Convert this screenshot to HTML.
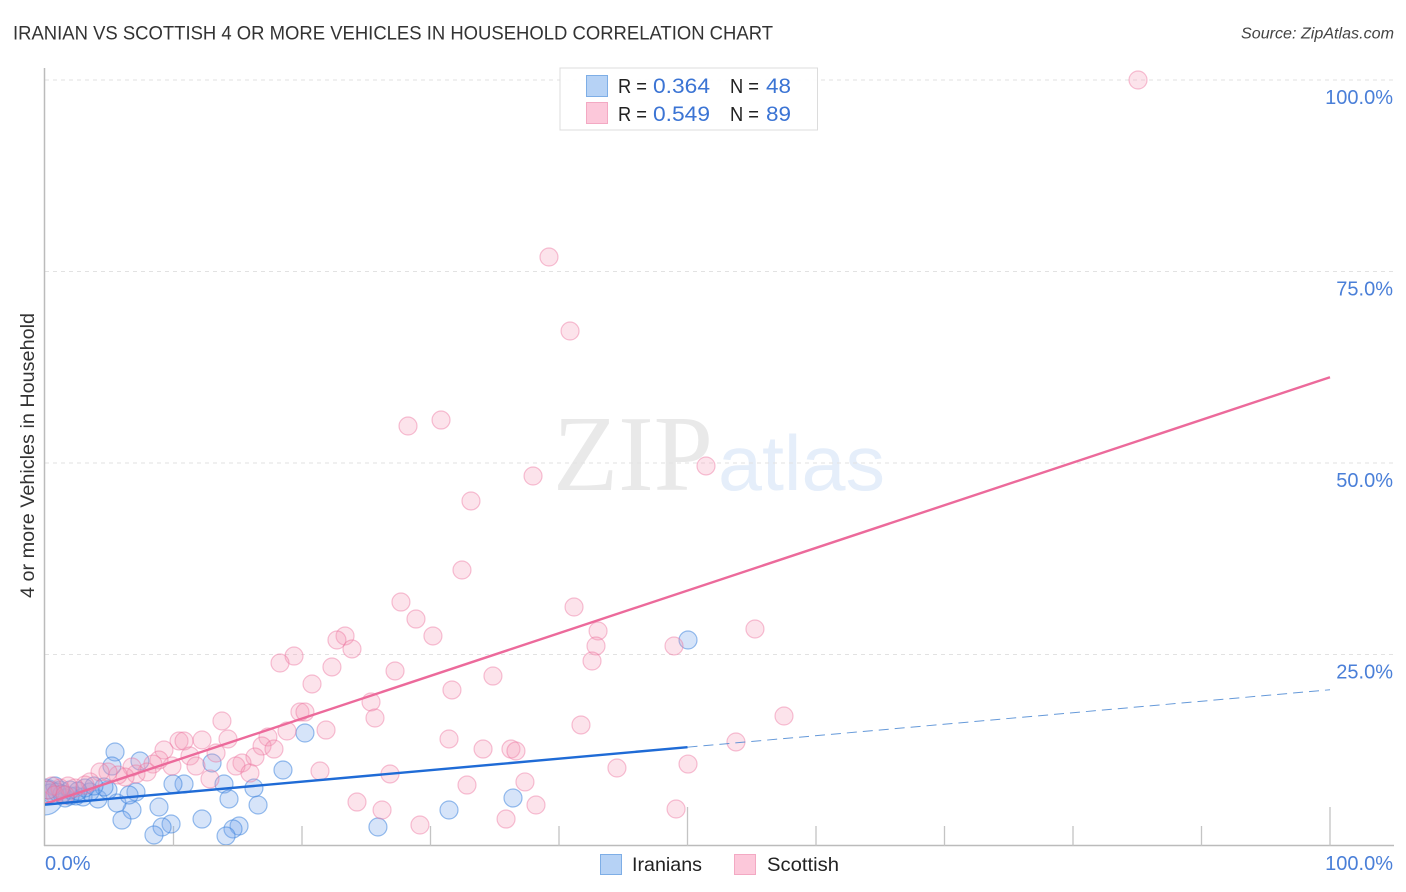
<!DOCTYPE html>
<html lang="en">
<head>
<meta charset="utf-8">
<title>Iranian vs Scottish 4 or more vehicles in household correlation chart</title>
<style>
html,body{margin:0;padding:0;background:#fff;}
svg{display:block;font-family:"Liberation Sans",sans-serif;}
</style>
</head>
<body>
<svg id="chart" width="1406" height="892" viewBox="0 0 1406 892" xmlns="http://www.w3.org/2000/svg">
  <defs>
    <clipPath id="plot-clip"><rect x="45" y="60" width="1349" height="785"/></clipPath>
  </defs>
  <rect width="1406" height="892" fill="#fff"/>
  <text x="13" y="39.500" font-size="19.500" fill="#333" textLength="760" lengthAdjust="spacingAndGlyphs">IRANIAN VS SCOTTISH 4 OR MORE VEHICLES IN HOUSEHOLD CORRELATION CHART</text>
  <text x="1394" y="38.500" font-size="15.500" font-style="italic" fill="#444" text-anchor="end" textLength="153" lengthAdjust="spacingAndGlyphs">Source: ZipAtlas.com</text>

  <g>
    <text x="553" y="490" font-family="'Liberation Serif',serif" font-size="108" fill="#e9e9e9" textLength="160" lengthAdjust="spacingAndGlyphs">ZIP</text>
    <text x="718" y="490" font-size="78" fill="#e5eefa" textLength="167" lengthAdjust="spacingAndGlyphs">atlas</text>
  </g>

  <g id="grid"></g>
  <g id="axes"></g>
  <g id="points" clip-path="url(#plot-clip)"></g>
  <g id="trends" clip-path="url(#plot-clip)"></g>
  <g id="tick-labels"></g>

  <text transform="translate(34 598) rotate(-90)" font-size="19" fill="#333" textLength="285" lengthAdjust="spacingAndGlyphs">4 or more Vehicles in Household</text>

  <g>
    <rect x="560" y="68" width="257.500" height="62" fill="#fff" fill-opacity="0.92" stroke="#dcdcdc" stroke-width="1"/>
    <rect x="586.500" y="75.500" width="21" height="21" fill="#b6d2f5" stroke="#7eaee6"/>
    <rect x="586.500" y="102.500" width="21" height="21" fill="#fcc8da" stroke="#f3a9c3"/>
    <g font-size="20" fill="#222">
      <text x="618" y="93" textLength="29" lengthAdjust="spacingAndGlyphs">R =</text>
      <text x="730" y="93" textLength="29" lengthAdjust="spacingAndGlyphs">N =</text>
      <text x="618" y="121" textLength="29" lengthAdjust="spacingAndGlyphs">R =</text>
      <text x="730" y="121" textLength="29" lengthAdjust="spacingAndGlyphs">N =</text>
    </g>
    <g font-size="21.500" fill="#3b74d4">
      <text x="653" y="93" textLength="57" lengthAdjust="spacingAndGlyphs">0.364</text>
      <text x="766" y="93" textLength="25" lengthAdjust="spacingAndGlyphs">48</text>
      <text x="653" y="121" textLength="57" lengthAdjust="spacingAndGlyphs">0.549</text>
      <text x="766" y="121" textLength="25" lengthAdjust="spacingAndGlyphs">89</text>
    </g>
  </g>

  <g>
    <g>
      <rect x="600.500" y="854.500" width="21" height="20" fill="#b6d2f5" stroke="#7eaee6"/>
      <text x="632" y="871" font-size="19.500" fill="#222" textLength="70" lengthAdjust="spacingAndGlyphs">Iranians</text>
    </g>
    <g>
      <rect x="734.500" y="854.500" width="21" height="20" fill="#fcc8da" stroke="#f3a9c3"/>
      <text x="767" y="871" font-size="19.500" fill="#222" textLength="72" lengthAdjust="spacingAndGlyphs">Scottish</text>
    </g>
  </g>
</svg>
<script>
const xTickValues = [10, 20, 30, 40, 50, 60, 70, 80, 90, 100];
const majorXTicks = [50, 100];
const yGridValues = [25, 50, 75, 100];
const yTickLabels = ["25.0%", "50.0%", "75.0%", "100.0%"];
const xEndLabels = ["0.0%", "100.0%"];
const xEndValues = [0, 100];

const iranianX = [50.04,20.23,5.45,7.39,5.21,13.00,18.52,16.26,10.82,9.96,13.93,36.42,31.44,25.91,16.58,14.32,8.87,6.77,5.60,7.08,6.54,5.99,12.22,9.81,9.11,8.48,15.10,14.63,14.09,4.12,4.90,4.59,2.96,3.50,2.41,1.95,1.56,1.17,0.78,0.39,0.93,1.95,3.11,3.81,1.32,2.57,0.23];
const iranianY = [26.89,14.75,12.27,11.10,10.44,10.84,9.92,7.57,8.09,8.09,8.09,6.27,4.70,2.48,5.35,6.14,5.09,4.70,5.61,7.05,6.66,3.39,3.52,2.87,2.48,1.44,2.61,2.22,1.31,6.14,7.31,7.70,6.40,7.05,6.53,6.53,6.27,7.31,7.83,6.92,7.05,7.31,7.57,7.83,6.79,7.18,7.31];
const iranianLargeX = [0];
const iranianLargeY = [6.40];

const scottishX = [85.06,39.22,40.86,28.25,30.82,51.44,37.98,33.15,32.45,27.70,28.87,41.17,43.04,42.88,42.57,30.19,23.35,22.72,23.89,19.38,18.29,22.33,27.24,20.78,31.67,34.86,25.37,25.68,55.25,48.95,57.51,41.71,53.77,31.44,34.09,36.26,36.65,44.51,50.04,26.85,21.40,32.84,37.35,38.21,49.11,35.88,29.18,26.23,24.28,19.84,20.23,13.77,18.83,21.87,17.35,16.89,17.82,12.22,14.24,10.43,10.82,9.26,13.31,11.28,16.34,15.33,14.86,15.95,12.84,11.75,9.88,8.87,8.40,7.94,7.08,6.77,6.23,5.68,4.90,4.28,3.50,3.11,2.33,1.79,1.17,0.54,0.23,0.78,1.56];
const scottishY = [100.00,76.89,67.23,54.83,55.61,49.61,48.30,45.04,36.03,31.85,29.63,31.20,28.07,26.11,24.15,27.42,27.42,26.89,25.72,24.80,23.89,23.37,22.85,21.15,20.37,22.19,18.80,16.71,28.33,26.11,16.97,15.80,13.58,13.97,12.66,12.66,12.40,10.18,10.70,9.40,9.79,7.96,8.36,5.35,4.83,3.52,2.74,4.70,5.74,17.49,17.49,16.32,15.01,15.14,14.23,13.05,12.66,13.84,13.97,13.71,13.71,12.53,12.14,11.75,11.62,10.84,10.44,9.53,8.75,10.44,10.44,11.23,10.70,9.66,9.40,10.31,9.01,9.27,9.66,9.66,8.36,7.96,7.57,7.83,7.57,7.83,7.31,6.66,6.66];

const scottishTrendX = [0, 100];
const scottishTrendY = [5.5, 61.2];
const iranianTrendX = [0, 50];
const iranianTrendY = [5.4, 12.9];
const iranianExtensionX = [50, 100];
const iranianExtensionY = [12.9, 20.4];

const NS = 'http://www.w3.org/2000/svg';
const sx = v => 45 + v * 12.85;
const sy = v => 846 - v * 7.66;

function make(tag, attrs, parent, text) {
  const el = document.createElementNS(NS, tag);
  for (const k in attrs) el.setAttribute(k, attrs[k]);
  if (text !== undefined) el.textContent = text;
  parent.appendChild(el);
  return el;
}

const gridG = document.getElementById('grid');
const axesG = document.getElementById('axes');
const labelsG = document.getElementById('tick-labels');
const pointsG = document.getElementById('points');
const trendsG = document.getElementById('trends');

yGridValues.forEach((v, i) => {
  const line = make('line', {x1: 45, x2: 1394, y1: sy(v), y2: sy(v), stroke: '#e2e2e2', 'stroke-width': 1, 'stroke-dasharray': '4 4'}, gridG);
  
  
  const label = make('text', {x: 1393, y: sy(v) + 24, 'font-size': 20, fill: '#4a7fd8', 'text-anchor': 'end'}, labelsG, yTickLabels[i]);
  
  
});

const yAxis = make('line', {x1: 44.5, x2: 44.5, y1: 68, y2: 846, stroke: '#bbbbbb', 'stroke-width': 1.5}, axesG);


const xAxis = make('line', {x1: 44, x2: 1394, y1: 845.5, y2: 845.5, stroke: '#bbbbbb', 'stroke-width': 1.5}, axesG);



xTickValues.forEach(v => {
  const top = majorXTicks.includes(v) ? 807 : 826;
  const tick = make('line', {x1: sx(v), x2: sx(v), y1: top, y2: 846, stroke: '#c4c4c4', 'stroke-width': 1.3}, axesG);
  
  
});

xEndLabels.forEach((t, i) => {
  const isLast = xEndValues[i] === 100;
  const label = make('text', {x: isLast ? 1393 : 45, y: 870, 'font-size': 20, fill: '#4a7fd8', 'text-anchor': isLast ? 'end' : 'start'}, labelsG, t);
  
  
});

const blueStyle = {fill: 'rgb(118,167,235)', 'fill-opacity': 0.3, stroke: 'rgb(60,130,220)', 'stroke-opacity': 0.52, 'stroke-width': 1.2};
const pinkStyle = {fill: 'rgb(244,150,180)', 'fill-opacity': 0.27, stroke: 'rgb(235,110,155)', 'stroke-opacity': 0.42, 'stroke-width': 1.2};

function drawPoint(x, y, r, style) {
  return make('circle', Object.assign({cx: sx(x), cy: sy(y), r: r}, style), pointsG);
}

iranianLargeX.forEach((x, i) => {
  const c = drawPoint(x, iranianLargeY[i], 18, blueStyle);
  
  
});
iranianX.forEach((x, i) => {
  const c = drawPoint(x, iranianY[i], 9, blueStyle);
  
  
});
scottishX.forEach((x, i) => {
  const c = drawPoint(x, scottishY[i], 9, pinkStyle);
  
  
});

const pinkLine = make('line', {x1: sx(scottishTrendX[0]), y1: sy(scottishTrendY[0]), x2: sx(scottishTrendX[1]), y2: sy(scottishTrendY[1]), stroke: '#ec6a9b', 'stroke-width': 2.4}, trendsG);


const blueLine = make('line', {x1: sx(iranianTrendX[0]), y1: sy(iranianTrendY[0]), x2: sx(iranianTrendX[1]), y2: sy(iranianTrendY[1]), stroke: '#1f6bd6', 'stroke-width': 2.4}, trendsG);


const blueDash = make('line', {x1: sx(iranianExtensionX[0]), y1: sy(iranianExtensionY[0]), x2: sx(iranianExtensionX[1]), y2: sy(iranianExtensionY[1]), stroke: '#3f7fd0', 'stroke-width': 1, 'stroke-dasharray': '10 6', 'stroke-opacity': 0.8}, trendsG);


</script>
</body>
</html>
